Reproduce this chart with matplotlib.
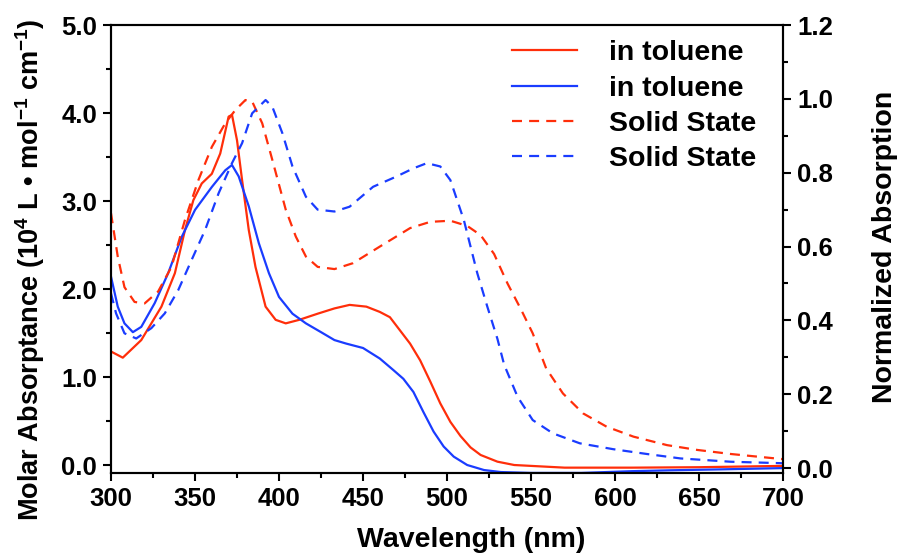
import numpy as np
import matplotlib
matplotlib.use("Agg")
from matplotlib import pyplot as plt

params = {
    'font.family': 'Liberation Sans',
    'font.weight': 'bold',
    'mathtext.fontset': 'custom',
    'mathtext.rm': 'Liberation Sans:bold',
    'mathtext.bf': 'Liberation Sans:bold',
    'mathtext.default': 'rm',
    'axes.linewidth': 1.5,
    'xtick.labelsize': 18.5,
    'ytick.labelsize': 18.5,
}
matplotlib.rcParams.update(params)

red = '#FF2E0A'
blue = '#1A3CFF'

# toluene solutions, molar absorptance (10^4 L mol-1 cm-1)
wl_red_sol = [300, 307, 318, 330, 338, 344, 349, 354, 360, 365, 370, 372, 375, 378,
              382, 386, 392, 398, 404, 412, 423, 433, 442, 452, 460, 466, 472, 478,
              484, 490, 496, 502, 508, 514, 520, 530, 540, 550, 570, 610, 650, 700]
eps_red_sol = [1.29, 1.22, 1.42, 1.80, 2.18, 2.67, 3.01, 3.20, 3.31, 3.54, 3.96, 3.98, 3.69, 3.24,
               2.67, 2.25, 1.80, 1.65, 1.61, 1.65, 1.72, 1.78, 1.82, 1.80, 1.74, 1.68, 1.53, 1.38,
               1.19, 0.95, 0.70, 0.49, 0.33, 0.20, 0.114, 0.038, 0.0, -0.01, -0.03, -0.03, -0.025, -0.01]

wl_blue_sol = [300, 304, 308, 313, 318, 326, 334, 342, 350, 360, 368, 372, 376, 382,
               388, 394, 400, 408, 416, 425, 433, 440, 450, 460, 468, 474, 480, 486,
               492, 498, 504, 512, 522, 532, 550, 580, 610, 633, 662, 700]
eps_blue_sol = [2.14, 1.80, 1.61, 1.51, 1.57, 1.84, 2.18, 2.59, 2.90, 3.16, 3.35, 3.41, 3.28, 2.94,
                2.52, 2.18, 1.91, 1.72, 1.61, 1.51, 1.42, 1.38, 1.33, 1.21, 1.08, 0.98, 0.83, 0.60,
                0.38, 0.21, 0.095, 0.0, -0.057, -0.08, -0.09, -0.09, -0.07, -0.06, -0.05, -0.035]

# solid state, normalized absorption
wl_red_ss = [300, 304, 308, 314, 320, 328, 336, 344, 352, 360, 368, 374, 380, 384,
             390, 396, 404, 410, 416, 423, 433, 444, 460, 478, 490, 502, 512, 520,
             528, 536, 544, 551, 559, 569, 581, 595, 611, 631, 649, 669, 700]
abs_red_ss = [0.69, 0.573, 0.49, 0.45, 0.446, 0.478, 0.545, 0.672, 0.78, 0.87, 0.934, 0.97, 0.997, 0.993,
              0.934, 0.835, 0.70, 0.627, 0.573, 0.545, 0.539, 0.555, 0.60, 0.65, 0.667, 0.67, 0.656, 0.631,
              0.58, 0.50, 0.43, 0.365, 0.27, 0.202, 0.148, 0.112, 0.085, 0.062, 0.049, 0.038, 0.024]

wl_blue_ss = [300, 303, 308, 315, 324, 332, 340, 348, 356, 364, 372, 378, 384, 392,
              396, 402, 408, 416, 423, 433, 442, 456, 470, 480, 488, 496, 502, 506,
              510, 514, 518, 524, 530, 534, 542, 551, 563, 579, 599, 619, 639, 669, 700]
abs_blue_ss = [0.473, 0.419, 0.365, 0.351, 0.379, 0.419, 0.482, 0.564, 0.645, 0.744, 0.826, 0.88, 0.961, 0.997,
               0.979, 0.907, 0.817, 0.735, 0.70, 0.695, 0.708, 0.762, 0.79, 0.812, 0.826, 0.817, 0.78, 0.726,
               0.672, 0.60, 0.528, 0.437, 0.35, 0.28, 0.193, 0.13, 0.094, 0.067, 0.051, 0.038, 0.026, 0.017, 0.013]

labels = ['in toluene', 'in toluene', 'Solid State', 'Solid State']

fig = plt.figure(figsize=(8.99, 5.58), dpi=100)
ax = fig.add_axes([0.1235, 0.1523, 0.7475, 0.8027])
ax2 = ax.twinx()

l1, = ax.plot(wl_red_sol, eps_red_sol, c=red, lw=1.6)
l2, = ax.plot(wl_blue_sol, eps_blue_sol, c=blue, lw=1.6)
l3, = ax2.plot(wl_red_ss, abs_red_ss, c=red, lw=1.6, ls=(0, (4.5, 3.2)))
l4, = ax2.plot(wl_blue_ss, abs_blue_ss, c=blue, lw=1.6, ls=(0, (4.5, 3.2)))

ax.set_xlim(300, 700)
ax.set_ylim(-0.091, 5.0)
ax2.set_ylim(-0.0135, 1.2)

ax.set_xticks(np.arange(300, 701, 50))
ax.set_xticks(np.arange(325, 700, 50), minor=True)
ax.set_yticks(np.arange(0, 5.01, 1.0))
ax.set_yticks(np.arange(0.5, 5.0, 1.0), minor=True)
ax.set_yticklabels(['%.1f' % v for v in np.arange(0, 5.01, 1.0)])
ax2.set_yticks(np.arange(0, 1.21, 0.2))
ax2.set_yticks(np.arange(0.1, 1.2, 0.2), minor=True)
ax2.set_yticklabels(['%.1f' % v for v in np.arange(0, 1.21, 0.2)])

for a in (ax, ax2):
    a.tick_params(which='major', direction='out', length=6, width=1.5, pad=4)
    a.tick_params(which='minor', direction='out', length=3.5, width=1.5)

fig.text(0.034, 0.516,
         "Molar Absorptance (10$^{4}$ L \u2022 mol$^{-1}$ cm$^{-1}$)",
         rotation=90, ha='center', va='center', fontsize=19.5, fontweight='bold')
fig.text(0.984, 0.557, "Normalized Absorption",
         rotation=90, ha='center', va='center', fontsize=20.5, fontweight='bold')
fig.text(0.524, 0.032, "Wavelength (nm)",
         ha='center', va='center', fontsize=20.5, fontweight='bold')

ax2.legend([l1, l2, l3, l4], labels, loc='upper left',
           bbox_to_anchor=(0.5695, 0.928), bbox_transform=fig.transFigure,
           frameon=False, fontsize=20.5, handlelength=2.3, handletextpad=1.1,
           labelspacing=0.33, borderpad=0, borderaxespad=0)

plt.savefig("out.png", dpi=100)
